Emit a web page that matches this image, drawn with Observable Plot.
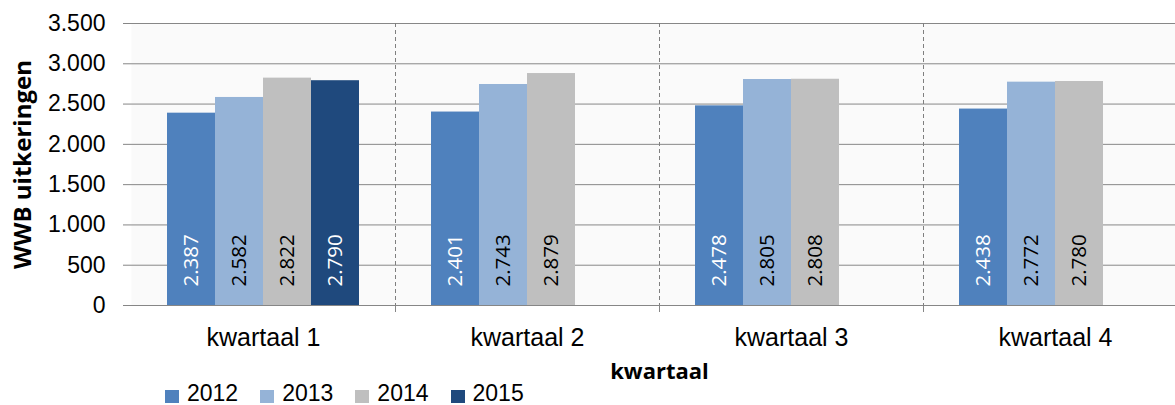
<!DOCTYPE html>
<html>
<head>
<meta charset="utf-8">
<script src="https://cdn.jsdelivr.net/npm/d3@7"></script>
<script src="https://cdn.jsdelivr.net/npm/@observablehq/plot@0.6"></script>
<style>
  html, body { margin: 0; padding: 0; background: #fff; overflow: hidden; }
  #chart { position: relative; width: 1175px; }
  svg { display: block; }
  g[aria-label="y-axis label"] text { font-family: "Open Sans", sans-serif; font-weight: bold; font-size: 24px; }
  g[aria-label="fx-axis label"] text { font-family: "Open Sans", sans-serif; font-weight: bold; font-size: 22px; }
  #legend { display: flex; align-items: center; height: 20px; margin-top: -5px; padding-left: 165px;
            font-family: "Liberation Sans", Arial, sans-serif; font-size: 23px; color: #000; }
  .item { display: flex; align-items: center; margin-right: 22px; height: 20px; }
  .item span { display: inline-block; line-height: 20px; height: 20px; }
  .sw { width: 14px; height: 14px; margin-right: 8px; position: relative; top: 4px; }
</style>
</head>
<body>
<div id="chart"></div>
<script>
// ---- data ----
const quarters = ["kwartaal 1", "kwartaal 2", "kwartaal 3", "kwartaal 4"];
const years = ["2012", "2013", "2014", "2015"];
const values2012 = [2387, 2401, 2478, 2438];
const values2013 = [2582, 2743, 2805, 2772];
const values2014 = [2822, 2879, 2808, 2780];
const values2015 = [2790, null, null, null];
const yTicks = [0, 500, 1000, 1500, 2000, 2500, 3000, 3500];

// ---- styles ----
const barColors = ["#4f81bd", "#95b3d7", "#bfbfbf", "#1f497d"];
const labelColors = ["#ffffff", "#000000", "#000000", "#ffffff"];

const series = [values2012, values2013, values2014, values2015];
const rows = [];
years.forEach((yr, j) => {
  quarters.forEach((q, i) => {
    const v = series[j][i];
    if (v != null) rows.push({quarter: q, year: yr, value: v});
  });
});

const nl = d3.formatLocale({decimal: ",", thousands: ".", grouping: [3], currency: ["€", ""]});
const fmt = nl.format(",");

// dashed separators at the right edge of each quarter + small tick below the baseline
function separators(index, scales, values, dims) {
  const xr = dims.width - dims.marginRight;
  const yb = dims.height - dims.marginBottom;
  const g = d3.create("svg:g");
  g.append("line")
    .attr("x1", xr + 0.5).attr("x2", xr + 0.5)
    .attr("y1", dims.marginTop).attr("y2", yb)
    .attr("stroke", "#7f7f7f").attr("stroke-width", 1)
    .attr("stroke-dasharray", "4,3");
  g.append("line")
    .attr("x1", xr + 0.5).attr("x2", xr + 0.5)
    .attr("y1", yb).attr("y2", yb + 7)
    .attr("stroke", "#868686").attr("stroke-width", 1);
  return g.node();
}

const chart = Plot.plot({
  width: 1175,
  height: 388,
  marginLeft: 130,
  marginRight: -12,
  marginTop: 23,
  marginBottom: 83,
  style: {fontFamily: "Liberation Sans, Arial, sans-serif", background: "transparent", overflow: "hidden"},
  fx: {domain: quarters, padding: 0, label: null},
  x: {domain: years, paddingInner: 0, paddingOuter: 0.75, axis: null},
  y: {domain: [0, 3500], axis: null},
  color: {domain: years, range: barColors},
  marks: [
    Plot.frame({fill: "#fafafa", stroke: null}),
    Plot.gridY(yTicks.slice(1), {stroke: "#878787", strokeOpacity: 1, strokeWidth: 1}),
    separators,
    Plot.barY(rows, {fx: "quarter", x: "year", y: "value", fill: "year"}),
    Plot.text(rows, {
      fx: "quarter", x: "year", y: 0,
      text: d => fmt(d.value),
      rotate: -90, textAnchor: "start", lineAnchor: "middle", dy: -19,
      fontSize: 20.5, fontFamily: "Open Sans, sans-serif",
      fill: d => labelColors[years.indexOf(d.year)]
    }),
    Plot.ruleY([0], {stroke: "#868686", strokeWidth: 1}),
    Plot.axisY({
      ticks: yTicks, tickFormat: fmt, anchor: "left",
      tickSize: 8, tickPadding: 18, fontSize: 23,
      stroke: "#868686", fill: "#000", line: true,
      label: "WWB uitkeringen", labelAnchor: "center", labelArrow: false, labelOffset: 118
    }),
    Plot.axisFx({
      anchor: "bottom", tickSize: 0, tickPadding: 23, fontSize: 25, fill: "#000",
      label: "kwartaal", labelAnchor: "center", labelArrow: false, labelOffset: 73
    })
  ]
});
document.getElementById("chart").appendChild(chart);

// legend
const legend = d3.select("#chart").append("div").attr("id", "legend");
years.forEach((yr, j) => {
  const it = legend.append("div").attr("class", "item");
  it.append("div").attr("class", "sw").style("background", barColors[j]);
  it.append("span").text(yr);
});
</script>
</body>
</html>
